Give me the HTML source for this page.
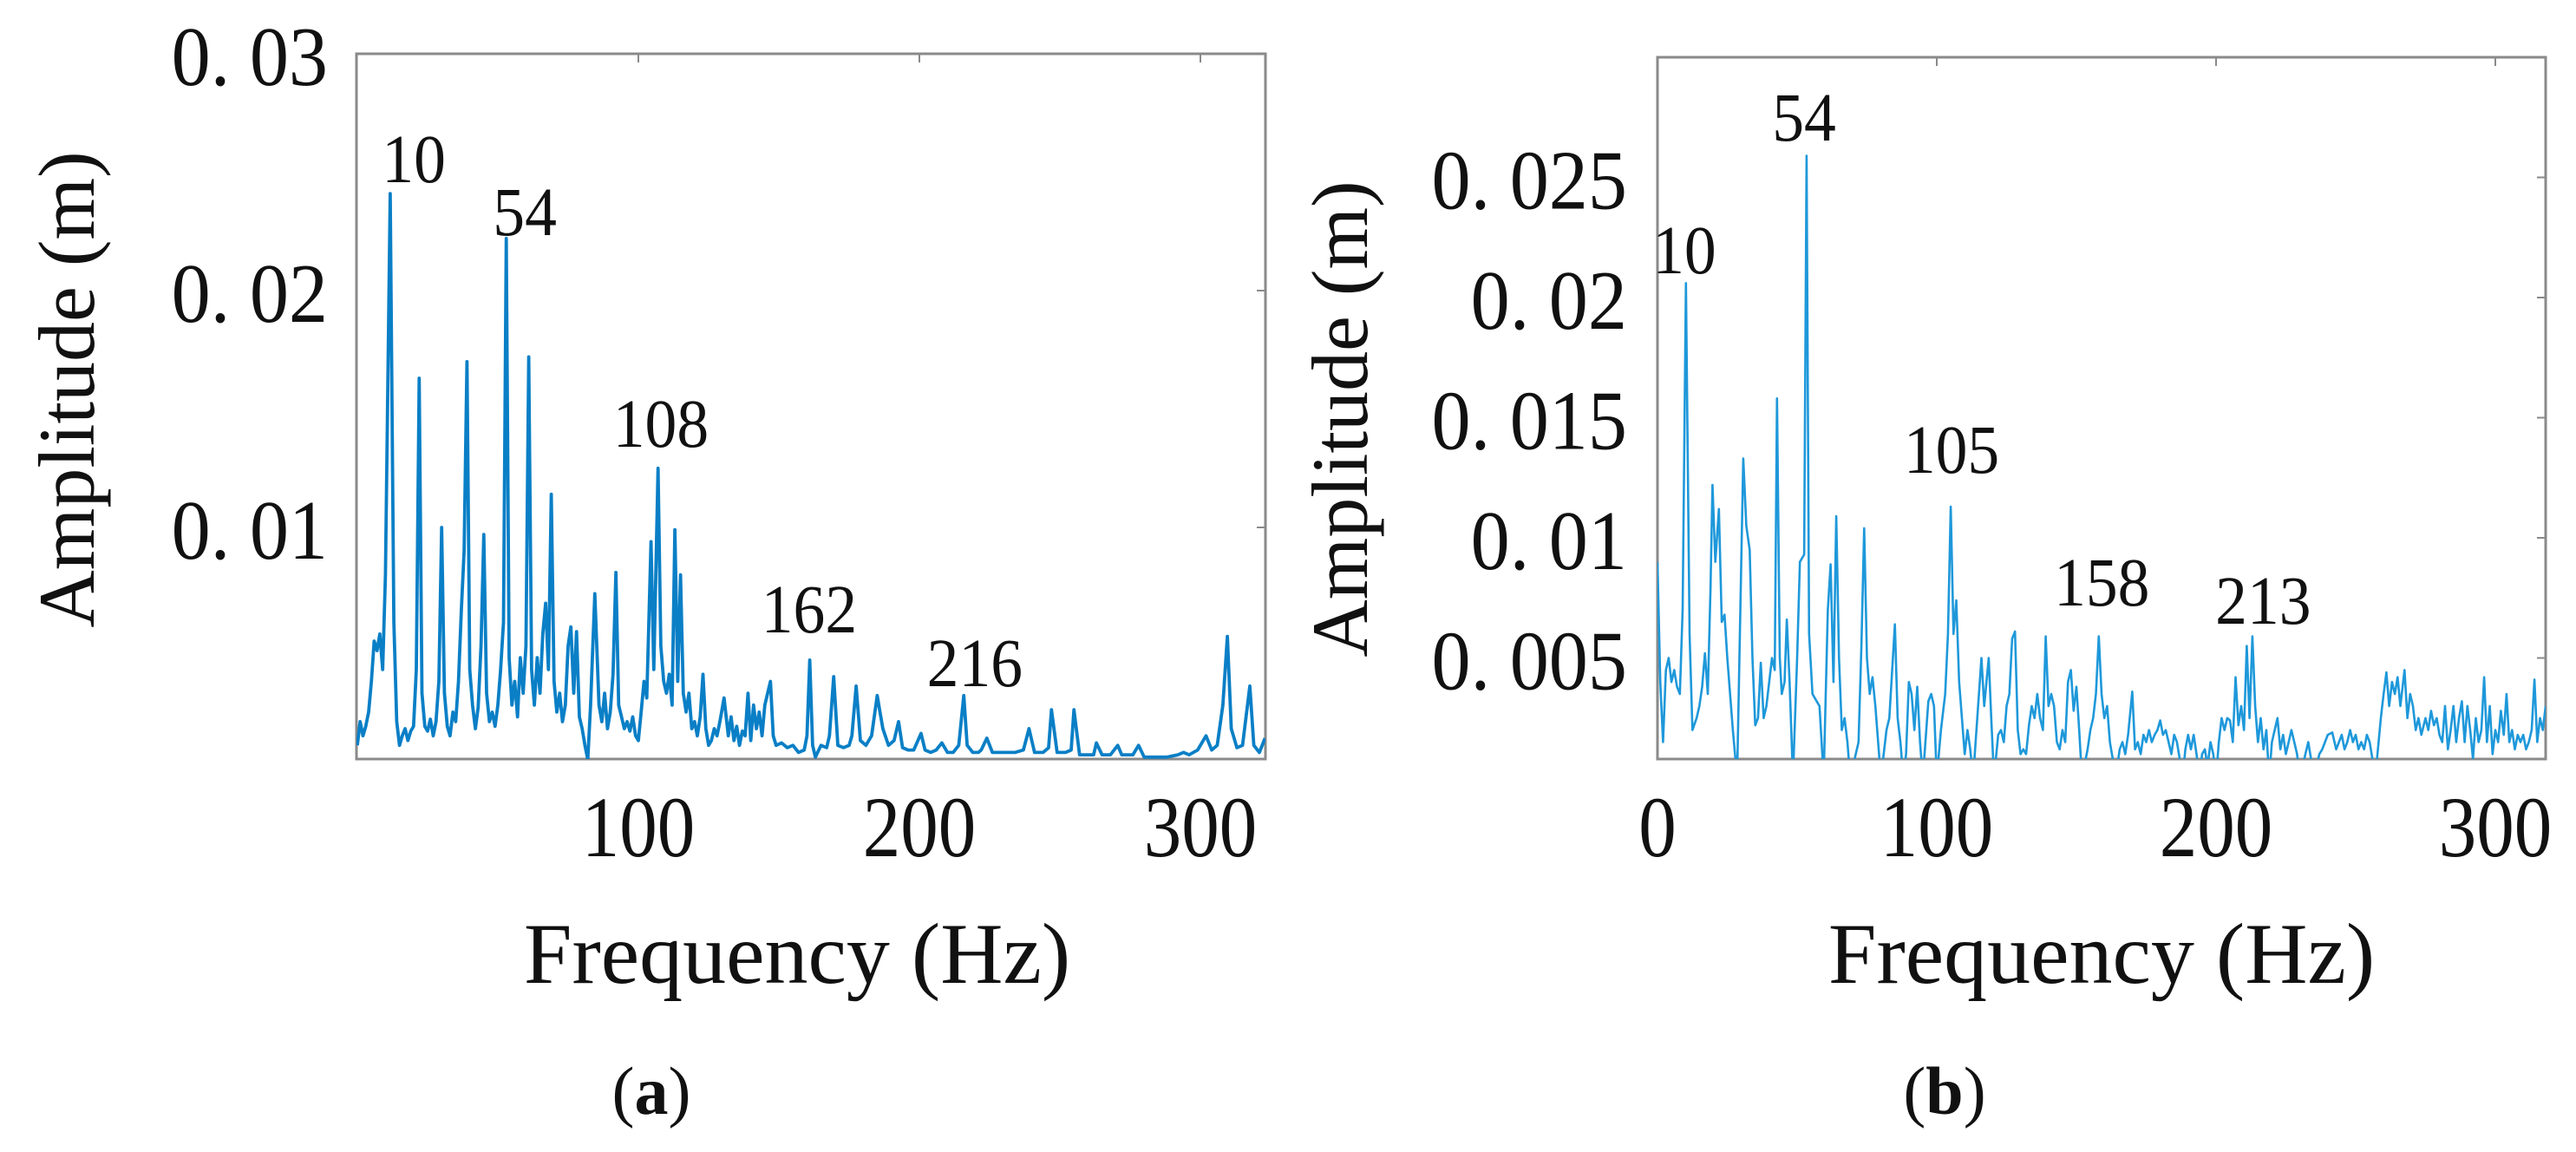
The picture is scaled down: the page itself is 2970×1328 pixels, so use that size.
<!DOCTYPE html>
<html><head><meta charset="utf-8"><style>
html,body{margin:0;padding:0;background:#fff;overflow:hidden;}
svg{display:block;}
text{font-family:"Liberation Serif","Noto Serif CJK SC",serif;fill:#111;}
</style></head><body>
<svg id="fig" width="2970" height="1328" viewBox="0 0 2970 1328" xmlns="http://www.w3.org/2000/svg">
<defs>
<clipPath id="clipA"><rect x="411" y="62" width="1048" height="813"/></clipPath>
<clipPath id="clipB"><rect x="1911" y="66" width="1024" height="809"/></clipPath>
</defs>
<g id="chartA"></g>
<g id="chartB"></g>
</svg>
<script>
const spectrumA = [[0,0.0008],[1,0.0018],[2,0.0012],[3,0.0016],[4,0.0022],[5,0.0035],[6,0.0052],[7,0.0048],[8,0.0055],[9,0.004],[10,0.008],[11.7,0.0241],[13,0.006],[14,0.0018],[15,0.0008],[16,0.0012],[17,0.0015],[18,0.0010],[19,0.0014],[20,0.0016],[21,0.004],[22,0.0163],[23,0.003],[24,0.0016],[25,0.0014],[26,0.0019],[27,0.0012],[28,0.0018],[29,0.0035],[30,0.0100],[31,0.003],[32,0.0016],[33,0.0012],[34,0.0022],[35,0.0018],[36,0.0035],[37,0.0065],[38,0.009],[39,0.017],[40,0.004],[41,0.0025],[42,0.0015],[43,0.0024],[44,0.0050],[45,0.0097],[46,0.003],[47,0.0018],[48,0.0022],[49,0.0016],[50,0.0025],[51,0.0040],[52,0.0060],[53,0.0222],[54,0.0045],[55,0.0025],[56,0.0035],[57,0.0020],[58,0.0045],[59,0.0030],[60,0.0050],[61,0.0172],[62,0.0040],[63,0.0025],[64,0.0045],[65,0.0030],[66,0.0055],[67,0.0068],[68,0.0040],[69,0.0114],[70,0.0035],[71,0.0022],[72,0.0030],[73,0.0018],[74,0.0025],[75,0.0050],[76,0.0058],[77,0.0030],[78,0.0056],[79,0.0020],[80,0.0015],[81,0.0008],[82,0.0002],[83,0.0025],[84.5,0.0072],[86,0.0025],[87,0.0018],[88,0.0030],[89,0.0015],[90,0.0022],[91,0.0038],[92,0.0081],[93,0.0025],[94,0.0020],[95,0.0015],[96,0.0018],[97,0.0014],[98,0.0020],[99,0.0012],[100,0.0010],[101,0.0022],[102,0.0035],[103,0.0028],[104.5,0.0094],[105.5,0.0040],[107,0.0125],[108,0.0050],[109,0.0035],[110,0.0030],[111,0.0038],[112,0.0025],[113,0.0099],[114,0.0035],[115,0.0080],[116,0.0030],[117,0.0022],[118,0.0030],[119,0.0015],[120,0.0018],[121,0.0012],[122,0.0020],[123,0.0038],[124,0.0015],[125,0.0008],[126,0.0010],[127,0.0015],[128,0.0012],[129,0.0018],[130.5,0.0028],[132,0.0012],[133,0.0020],[134,0.0010],[135,0.0016],[136,0.0008],[137,0.0014],[138,0.0012],[139,0.0030],[140,0.0010],[141,0.0025],[142,0.0015],[143,0.0022],[144,0.0012],[145,0.0025],[147,0.0035],[148,0.0012],[149,0.0008],[151,0.0009],[153,0.0007],[155,0.0008],[157,0.0005],[159,0.0006],[160,0.0012],[161,0.0044],[162,0.0008],[163,0.0003],[165,0.0008],[167,0.0007],[168,0.0012],[169.5,0.0037],[171,0.0008],[173,0.0007],[175,0.0008],[176,0.0012],[177.5,0.0033],[179,0.0010],[181,0.0008],[183,0.0012],[185,0.0029],[186,0.0022],[187,0.0015],[189,0.0008],[191,0.0010],[192.6,0.0018],[194,0.0007],[196,0.0006],[198,0.0006],[200.6,0.0013],[202,0.0006],[204,0.0005],[206,0.0006],[208,0.0009],[210,0.0005],[212,0.0005],[214,0.0008],[215.8,0.0029],[217,0.0008],[219,0.0005],[221,0.0005],[222,0.0006],[224,0.0011],[226,0.0005],[230,0.0005],[234,0.0005],[237,0.0006],[239,0.0015],[241,0.0005],[244,0.0005],[246,0.0007],[247,0.0023],[249,0.0005],[252,0.0005],[254,0.0006],[255,0.0023],[257,0.0004],[260,0.0004],[262,0.0004],[263,0.0009],[265,0.0004],[268,0.0004],[270.6,0.0008],[272,0.0004],[276,0.0004],[278,0.0008],[280,0.0003],[284,0.0003],[288,0.0003],[292,0.0004],[294,0.0005],[296,0.0004],[299,0.0006],[302,0.0012],[304,0.0006],[306,0.0008],[308,0.0025],[309.6,0.0054],[311,0.0015],[313,0.0007],[315,0.0008],[317.6,0.0033],[319,0.0008],[321,0.0005],[323,0.0011]];
const spectrumB = [[0,0.0090],[1,0.0040],[2,0.0015],[3,0.0045],[4,0.0050],[5,0.0040],[6,0.0045],[7,0.0038],[8,0.0035],[9,0.0070],[10.2,0.0206],[11.5,0.0060],[12.5,0.0020],[14,0.0025],[15,0.0030],[16,0.0038],[17,0.0052],[18,0.0035],[19,0.0080],[19.7,0.0122],[20.7,0.0090],[22,0.0112],[23,0.0065],[24,0.0068],[25,0.0050],[26,0.0035],[27,0.0020],[28.5,0.0000],[29.5,0.0060],[30.7,0.0133],[31.8,0.0105],[33,0.0095],[34,0.0050],[35,0.0022],[36,0.0025],[37,0.0048],[38,0.0025],[39,0.0030],[40,0.0040],[41,0.0050],[42,0.0045],[42.8,0.0158],[43.8,0.0050],[44.5,0.0035],[45.5,0.0040],[46.3,0.0066],[47.3,0.0040],[48.5,0.0000],[50,0.0050],[51,0.0090],[52.5,0.0093],[53.4,0.0259],[54.3,0.0060],[55.5,0.0035],[57,0.0032],[58,0.0030],[59.5,0.0000],[61,0.0070],[62,0.0089],[63,0.0040],[64,0.0109],[65,0.0050],[66,0.0020],[67,0.0025],[68,0.0015],[69,0.0000],[71,0.0010],[72,0.0015],[73,0.0055],[74,0.0104],[75,0.0050],[76,0.0035],[77,0.0042],[78,0.0030],[79,0.0015],[80,0.0000],[82,0.0020],[83,0.0025],[85,0.0064],[86,0.0025],[87,0.0015],[88,0.0000],[89,0.0010],[90,0.0040],[91,0.0035],[92,0.0020],[93,0.0038],[94,0.0015],[95,0.0000],[97,0.0032],[98,0.0035],[99,0.0030],[100,0.0000],[101.5,0.0020],[103,0.0035],[104,0.0060],[105,0.0113],[106,0.0060],[107,0.0074],[108,0.0040],[109,0.0025],[110,0.0010],[111,0.0020],[112,0.0012],[113,0.0000],[114.5,0.0025],[116,0.0050],[117,0.0030],[118.6,0.0050],[119.5,0.0025],[120.5,0.0000],[122,0.0018],[123,0.0020],[124,0.0015],[125,0.0030],[126,0.0035],[127,0.0058],[128,0.0061],[129,0.0020],[130,0.0010],[131,0.0012],[132,0.0010],[133,0.0022],[134,0.0030],[135,0.0025],[136,0.0035],[137,0.0025],[138,0.0020],[139,0.0059],[140,0.0030],[141,0.0035],[142,0.0030],[143,0.0015],[144,0.0012],[145,0.0020],[146,0.0015],[147,0.0040],[148,0.0045],[149,0.0028],[150,0.0038],[151,0.0020],[152,0.0000],[154,0.0012],[155,0.0020],[156,0.0025],[157,0.0035],[158,0.0059],[159,0.0035],[160,0.0025],[161,0.0030],[162,0.0015],[163,0.0008],[164,0.0000],[165.5,0.0012],[166.5,0.0015],[167.5,0.0010],[168.5,0.0018],[170,0.0036],[171,0.0012],[172,0.0015],[173,0.0010],[174,0.0018],[175,0.0015],[176,0.0020],[177,0.0015],[178,0.0018],[179,0.0020],[180,0.0024],[181,0.0018],[182,0.0020],[183,0.0015],[184,0.0010],[185,0.0018],[186,0.0015],[187,0.0008],[188,0.0000],[189,0.0012],[190,0.0018],[191,0.0012],[192,0.0018],[193,0.0010],[194,0.0000],[195,0.0010],[196,0.0012],[197,0.0005],[198,0.0015],[199,0.0010],[200,0.0000],[201,0.0015],[202,0.0025],[203,0.0020],[204,0.0025],[205,0.0024],[206,0.0015],[207,0.0042],[208,0.0022],[209,0.0030],[210,0.0020],[211,0.0055],[212,0.0025],[213,0.0059],[214,0.0030],[215,0.0015],[216,0.0025],[217,0.0012],[218,0.0020],[219,0.0000],[220,0.0015],[221,0.0020],[222,0.0025],[223,0.0012],[224,0.0018],[225,0.0010],[226,0.0015],[227,0.0020],[228,0.0015],[229,0.0010],[230,0.0000],[232,0.0010],[233,0.0015],[234,0.0008],[235,0.0000],[237,0.0010],[238,0.0012],[239,0.0015],[240,0.0018],[241.6,0.0019],[243,0.0012],[244,0.0015],[245,0.0018],[246,0.0012],[247,0.0015],[248,0.0020],[249,0.0015],[250,0.0018],[251,0.0012],[252,0.0015],[253,0.0012],[254,0.0018],[255,0.0015],[256,0.0008],[257,0.0000],[259,0.0025],[260,0.0035],[261,0.0044],[262,0.0030],[263,0.0040],[264,0.0035],[265,0.0042],[266,0.0030],[267.5,0.0045],[268.5,0.0025],[269.5,0.0035],[270.5,0.0030],[271.5,0.0020],[272.5,0.0025],[273.5,0.0018],[275,0.0025],[276,0.0020],[277,0.0028],[278,0.0022],[279,0.0025],[280,0.0018],[281,0.0015],[282,0.0030],[283,0.0012],[284,0.0020],[285,0.0030],[286,0.0015],[287,0.0025],[288,0.0032],[289,0.0015],[290,0.0030],[291,0.0020],[292,0.0008],[293,0.0025],[294,0.0015],[295,0.0020],[296,0.0042],[297,0.0015],[298,0.0030],[299,0.0010],[300,0.0020],[301,0.0015],[302,0.0028],[303,0.0018],[304,0.0035],[305,0.0015],[306,0.0020],[307,0.0012],[308,0.0018],[309,0.0015],[310,0.0018],[311,0.0012],[312,0.0015],[313,0.0020],[314,0.0041],[315,0.0015],[316,0.0025],[317,0.0020],[318,0.0030]];
const yTicksA = [0.01, 0.02, 0.03];
const yTickLabelsA = ["0. 01", "0. 02", "0. 03"];
const xTicksA = [100, 200, 300];
const peakLabelTextA = ["10", "54", "108", "162", "216"];
const peakLabelFreqA = [20.1, 59.6, 108.0, 160.8, 219.7];
const peakLabelAmpA = [0.02458, 0.02234, 0.01341, 0.00557, 0.00330];
const yTicksB = [0.005, 0.01, 0.015, 0.02, 0.025];
const yTickLabelsB = ["0. 005", "0. 01", "0. 015", "0. 02", "0. 025"];
const xTicksB = [0, 100, 200, 300];
const peakLabelTextB = ["10", "54", "105", "158", "213"];
const peakLabelFreqB = [9.6, 52.5, 105.3, 159.1, 216.9];
const peakLabelAmpB = [0.02101, 0.02653, 0.01271, 0.00718, 0.00643];

const NS = "http://www.w3.org/2000/svg";
function mk(parent, tag, attrs, txt){
  const e = document.createElementNS(NS, tag);
  for (const k in attrs) e.setAttribute(k, attrs[k]);
  if (txt !== undefined) e.textContent = txt;
  parent.appendChild(e);
  return e;
}
// condensed text: horizontal scale sx around anchor x
function ctext(parent, x, y, sx, attrs, txt){
  const a = Object.assign({x:(x/sx).toFixed(1), y:y, transform:`scale(${sx},1)`}, attrs);
  return mk(parent, "text", a, txt);
}

function drawChart(g, cfg){
  const xs = f => cfg.x0 + f * cfg.pxPerHz;
  const ys = a => cfg.y0 - a * cfg.pxPerUnit;
  const frame = mk(g, "rect", {x:cfg.L, y:cfg.T, width:cfg.R-cfg.L, height:cfg.B-cfg.T, fill:"none", stroke:"#8a8a8a", "stroke-width":3});
  
  
  cfg.xTicks.forEach(t => {
    const tk = mk(g, "line", {x1:xs(t), x2:xs(t), y1:cfg.T, y2:cfg.T+10, stroke:"#8a8a8a", "stroke-width":2});
    
    
    const lb = ctext(g, xs(t), 987, 0.87, {"text-anchor":"middle", "font-size":100}, String(t));
    
    
  });
  cfg.yTicks.forEach((t,i) => {
    const tk = mk(g, "line", {x1:cfg.R-10, x2:cfg.R, y1:ys(t), y2:ys(t), stroke:"#8a8a8a", "stroke-width":2});
    
    
    const lb = ctext(g, cfg.yLabelX, ys(t)+36, 0.93, {"text-anchor":"end", "font-size":97}, cfg.yLabels[i]);
    
    
  });
  const d = cfg.data.map((p,i) => (i?"L":"M") + xs(p[0]).toFixed(1) + " " + ys(p[1]).toFixed(1)).join(" ");
  const path = mk(g, "path", {d:d, fill:"none", stroke:cfg.color, "stroke-width":cfg.lw, "stroke-linejoin":"round", "clip-path":cfg.clip});
  
  
  cfg.peakText.forEach((t,i) => {
    const lb = ctext(g, xs(cfg.peakFreq[i]), ys(cfg.peakAmp[i]), 0.92, {"text-anchor":"middle", "font-size":80}, t);
    
    
  });
  const yt = mk(g, "text", {x:0, y:0, transform:`translate(${cfg.yTitleX},${cfg.yTitleY}) rotate(-90)`, "text-anchor":"middle", "font-size":92}, "Amplitude (m)");
  
  
  const xt = mk(g, "text", {x:cfg.xTitleX, y:1133, "text-anchor":"middle", "font-size":100}, "Frequency (Hz)");
  
  
  const cap = mk(g, "text", {x:cfg.capX, y:1284, "text-anchor":"middle", "font-size":78}, "");
  
  
  mk(cap, "tspan", {}, "(");
  mk(cap, "tspan", {"font-weight":"bold"}, cfg.capLetter);
  mk(cap, "tspan", {}, ")");
}

drawChart(document.getElementById("chartA"), {
  L:411, R:1459, T:62, B:875, x0:412, pxPerHz:3.24, y0:881, pxPerUnit:27300,
  xTicks:xTicksA, yTicks:yTicksA, yLabels:yTickLabelsA, data:spectrumA,
  peakText:peakLabelTextA, peakFreq:peakLabelFreqA, peakAmp:peakLabelAmpA,
  color:"#0a7fc6", lw:3.8, clip:"url(#clipA)",
  yLabelX:378, yTitleX:108, yTitleY:449, xTitleX:919, capX:751, capLetter:"a"
});
drawChart(document.getElementById("chartB"), {
  L:1911, R:2935, T:66, B:875, x0:1911, pxPerHz:3.22, y0:897, pxPerUnit:27700,
  xTicks:xTicksB, yTicks:yTicksB, yLabels:yTickLabelsB, data:spectrumB,
  peakText:peakLabelTextB, peakFreq:peakLabelFreqB, peakAmp:peakLabelAmpB,
  color:"#1e98da", lw:2.6, clip:"url(#clipB)",
  yTitleX:1576, yTitleY:483, yLabelX:1876, xTitleX:2423, capX:2242, capLetter:"b"
});
</script>
</body></html>
